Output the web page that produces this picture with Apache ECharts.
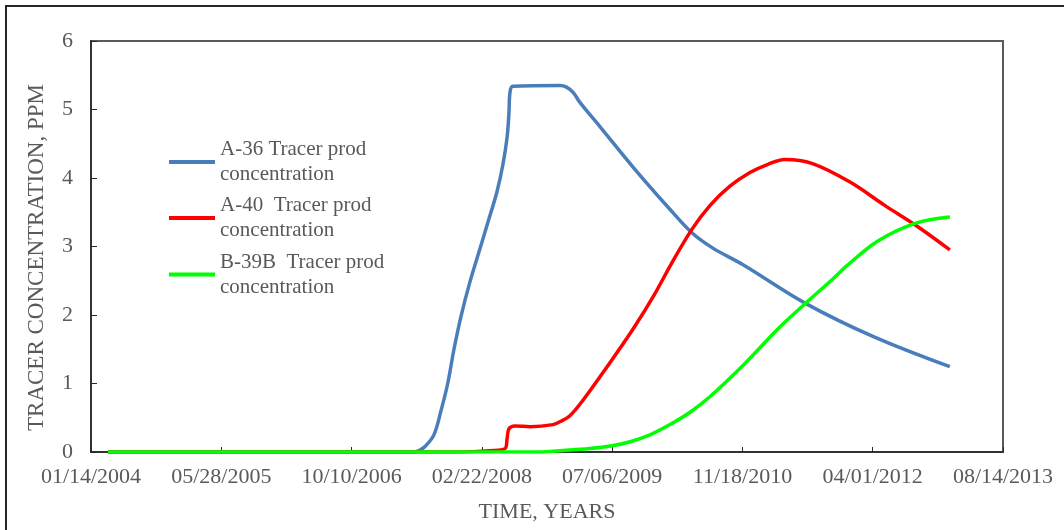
<!DOCTYPE html>
<html>
<head>
<meta charset="utf-8">
<script src="https://cdn.jsdelivr.net/npm/echarts@6/dist/echarts.min.js"></script>
<style>
html,body{margin:0;padding:0;background:#fff;}
#chart{width:1064px;height:530px;}
</style>
</head>
<body>
<div id="chart"></div>
<script>
// Excel-style serial day numbers (day 38000 = 01/14/2004)
var xTickLabels = ['01/14/2004','05/28/2005','10/10/2006','02/22/2008','07/06/2009','11/18/2010','04/01/2012','08/14/2013'];
var seriesNames = ['A-36 Tracer prod concentration','A-40  Tracer prod concentration','B-39B  Tracer prod concentration'];

var a36Days = [38065,39236,39263,39282,39316,39343,39369,39393,39420,39454,39493,39527,39558,39581,39597,39604,39608,39619,39800,39823,39850,39877,39953,40080,40213,40306,40385,40504,40742,41005,41296];
var a36Vals = [0,0,0.03,0.08,0.25,0.6,1.0,1.5,1.98,2.48,2.97,3.4,3.8,4.2,4.6,4.95,5.25,5.34,5.35,5.33,5.25,5.1,4.75,4.16,3.58,3.2,2.98,2.73,2.17,1.68,1.245];

var a40Days = [38065,39416,39531,39589,39597,39604,39627,39685,39773,39804,39838,39883,39976,40081,40161,40226,40306,40376,40452,40529,40598,40663,40769,40913,41046,41165,41296];
var a40Vals = [0,0,0.02,0.05,0.2,0.34,0.38,0.37,0.40,0.45,0.53,0.73,1.22,1.8,2.29,2.74,3.25,3.6,3.88,4.08,4.2,4.27,4.21,3.94,3.6,3.31,2.95];

var b39Days = [38065,39700,39800,39915,39999,40069,40145,40222,40299,40376,40504,40637,40742,40848,40901,41020,41165,41296];
var b39Vals = [0,0,0.02,0.05,0.09,0.15,0.25,0.40,0.58,0.81,1.27,1.8,2.17,2.53,2.72,3.08,3.34,3.43];

function pairs(xs, ys){ return xs.map(function(x,i){ return [x, ys[i]]; }); }

var FONT = 'Liberation Serif';
var TXT = '#595959';
var colors = ['#4A7EBB','#FF0000','#00FF00'];

function legendFor(i, top){
  return {
    data:[seriesNames[i]], left:169, top:top, orient:'vertical', padding:0,
    icon:'rect', itemWidth:46, itemHeight:4,
    formatter:function(n){ var k=n.indexOf(' concentration'); return n.substring(0,k)+'\nconcentration'; },
    textStyle:{fontFamily:FONT, fontSize:21, color:TXT, lineHeight:25, padding:[25,0,0,0]}
  };
}

var chart = echarts.init(document.getElementById('chart'));
chart.setOption({
  animation:false,
  backgroundColor:'#fff',
  color:colors,
  graphic:[{type:'rect', shape:{x:6, y:6, width:1200, height:700}, style:{fill:'none', stroke:'#262626', lineWidth:2}, silent:true}],
  legend:[legendFor(0,124.5), legendFor(1,180.5), legendFor(2,237)],
  grid:{left:91, right:61, top:41, bottom:78, show:true, borderColor:'#595959', borderWidth:2, backgroundColor:'transparent'},
  xAxis:{
    type:'value', min:38000, max:41500, interval:500,
    name:'TIME, YEARS', nameLocation:'middle', nameGap:49,
    nameTextStyle:{fontFamily:FONT, fontSize:22, color:TXT},
    axisLine:{lineStyle:{color:'#262626', width:1.5}},
    axisTick:{inside:true, length:5, lineStyle:{color:'#262626'}},
    splitLine:{show:false},
    axisLabel:{margin:14, fontFamily:FONT, fontSize:22, color:TXT,
      formatter:function(v){ var i=Math.round((v-38000)/500); return xTickLabels[i]||''; }}
  },
  yAxis:{
    type:'value', min:0, max:6, interval:1,
    name:'TRACER CONCENTRATION, PPM', nameLocation:'middle', nameGap:43,
    nameTextStyle:{fontFamily:FONT, fontSize:23, color:TXT, padding:[0,22,0,0]},
    axisLine:{show:true, lineStyle:{color:'#262626', width:1.5}},
    axisTick:{show:true, inside:true, length:6, lineStyle:{color:'#262626'}},
    splitLine:{show:false},
    axisLabel:{margin:18, fontFamily:FONT, fontSize:22, color:TXT}
  },
  series:[
    {name:seriesNames[0], type:'line', data:pairs(a36Days,a36Vals), showSymbol:false, smooth:0.35, lineStyle:{width:3.5, color:colors[0]}},
    {name:seriesNames[1], type:'line', data:pairs(a40Days,a40Vals), showSymbol:false, smooth:0.35, lineStyle:{width:3.5, color:colors[1]}},
    {name:seriesNames[2], type:'line', data:pairs(b39Days,b39Vals), showSymbol:false, smooth:0.35, lineStyle:{width:3.5, color:colors[2]}}
  ]
});
</script>
</body>
</html>
